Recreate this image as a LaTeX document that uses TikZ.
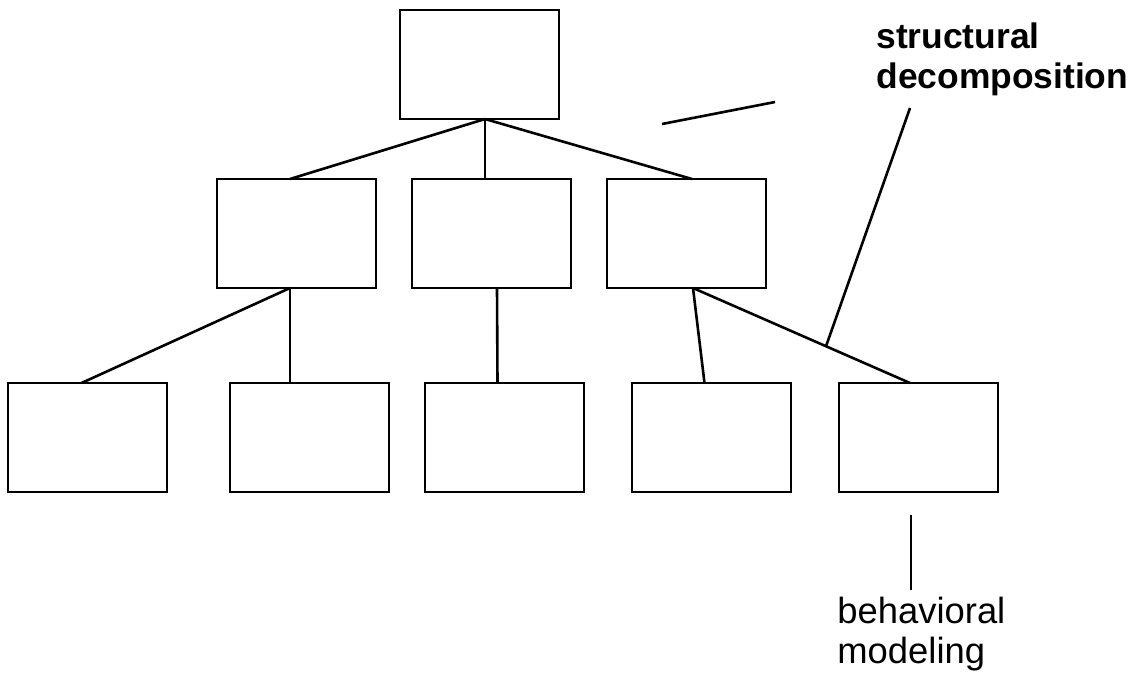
\documentclass[tikz,border=0pt]{standalone}
\usepackage{fontspec}
\setmainfont{Liberation Sans}
\usetikzlibrary{calc}
\begin{document}
\begin{tikzpicture}[x=0.5pt,y=-0.5pt,
  box/.style={draw, rectangle, line width=1.4pt, anchor=north west,
    minimum width=79.5pt, minimum height=54.5pt, inner sep=0pt, outer sep=0pt},
  link/.style={line width=1.3pt},
  note/.style={anchor=north west, inner sep=0pt, align=left,
    font=\fontsize{18.2}{20}\selectfont}]
\useasboundingbox (0,0) rectangle (1147,677);

% hierarchy of modules
\node[box] (root) at (400,10) {};
\node[box] (m1) at (217,179) {};
\node[box] (m2) at (412,179) {};
\node[box] (m3) at (607,179) {};
\node[box] (b1) at (8,383) {};
\node[box] (b2) at (230,383) {};
\node[box] (b3) at (425,383) {};
\node[box] (b4) at (632,383) {};
\node[box] (b5) at (839,383) {};

% decomposition links
\draw[link] ($(root.south)+(5.5,0)$) -- ($(m1.north)+(-6.5,0)$);
\draw[link] ($(root.south)+(5.5,0)$) -- ($(m2.north)+(-6.5,0)$);
\draw[link] ($(root.south)+(5.5,0)$) -- ($(m3.north)+(5.5,0)$);
\draw[link] ($(m1.south)+(-6.5,0)$) -- ($(b1.north)+(-6,0)$);
\draw[link] ($(m1.south)+(-6.5,0)$) -- ($(b2.north)+(-19.5,0)$);
\draw[link] ($(m2.south)+(5.5,0)$) -- ($(b3.north)+(-7,0)$);
\draw[link] ($(m3.south)+(6.5,0)$) -- ($(b4.north)+(-7,0)$);
\draw[link] ($(m3.south)+(6.5,0)$) -- ($(b5.north)+(-8.5,0)$)
  coordinate[pos=0.613] (sdTip);

% annotations
\node[note, font=\fontsize{17.7}{20}\selectfont\bfseries] (sdLabel) at (876,22)
  {structural\\decomposition};
\coordinate (sdTop) at (910,108);
\draw[link] (sdTop) -- (sdTip);
\coordinate (dashA) at (662,124);
\coordinate (dashB) at (775,102);
\draw[link] (dashA) -- (dashB);

\coordinate (bmTop) at (911,515);
\coordinate (bmBot) at (911,590);
\draw[link] (bmTop) -- (bmBot);
\node[note] (bmLabel) at (837,597) {behavioral\\modeling};
\end{tikzpicture}
\end{document}
